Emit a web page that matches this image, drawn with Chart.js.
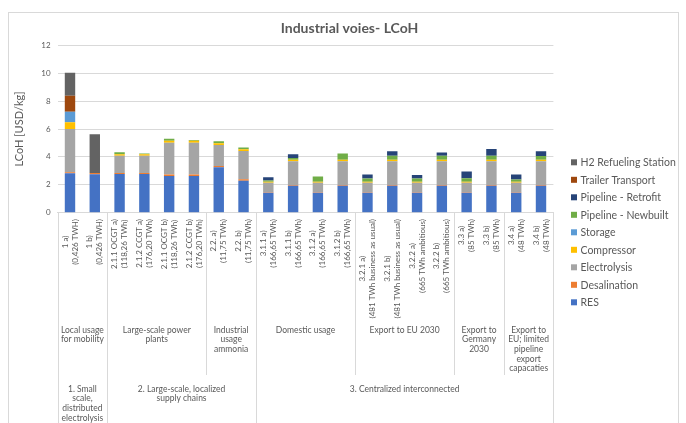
<!DOCTYPE html>
<html><head><meta charset="utf-8">
<script src="https://cdn.jsdelivr.net/npm/chart.js@4"></script>
<style>html,body{margin:0;padding:0;background:#fff}#wrap{width:686px;height:423px;position:relative}</style>
</head><body><div id="wrap"><canvas id="c" width="686" height="423"></canvas></div>
<script>
// ---- data ----
const categoryLabels = [
  ["1 a)", "(0,426 TWH)"], ["1 b)", "(0,426 TWH)"],
  ["2.1.1 OCGT a)", "(118,26 TWh)"], ["2.1.2 CCGT a)", "(176,20 TWh)"],
  ["2.1.1 OCGT b)", "(118,26 TWh)"], ["2.1.2 CCGT b)", "(176,20 TWh)"],
  ["2.2. a)", "(11,75 TWh)"], ["2.2. b)", "(11,75 TWh)"],
  ["3.1.1 a)", "(166,65 TWh)"], ["3.1.1 b)", "(166,65 TWh)"],
  ["3.1.2 a)", "(166,65 TWh)"], ["3.1.2 b)", "(166,65 TWh)"],
  ["3.2.1 a)", "(481 TWh business as usual)"], ["3.2.1 b)", "(481 TWh business as usual)"],
  ["3.2.2 a)", "(665 TWh ambitious)"], ["3.2.2 b)", "(665 TWh ambitious)"],
  ["3.3 a)", "(85 TWh)"], ["3.3 b)", "(85 TWh)"],
  ["3.4 a)", "(48 TWh)"], ["3.4 b)", "(48 TWh)"]
];
const level2Labels = [
  ["Local usage", "for mobility"], ["Large-scale power", "plants"], ["Industrial", "usage", "ammonia"],
  ["Domestic usage"], ["Export to EU 2030"], ["Export to", "Germany", "2030"],
  ["Export to", "EU; limited", "pipeline", "export", "capacaties"]
];
const level2Spans = [2, 4, 2, 4, 4, 2, 2];
const level3Labels = [
  ["1. Small", "scale,", "distributed", "electrolysis"],
  ["2. Large-scale, localized", "supply chains"],
  ["3. Centralized interconnected"]
];
const level3Spans = [2, 6, 12];

const seriesNames = ["RES", "Desalination", "Electrolysis", "Compressor", "Storage",
  "Pipeline - Newbuilt", "Pipeline - Retrofit", "Trailer Transport", "H2 Refueling Station"];
const resValues          = [2.82, 2.75, 2.78, 2.78, 2.63, 2.63, 3.25, 2.29, 1.43, 1.93, 1.43, 1.93, 1.43, 1.93, 1.43, 1.93, 1.43, 1.93, 1.43, 1.93];
const desalinationValues = [0.08, 0.10, 0.07, 0.07, 0.10, 0.10, 0.10, 0.10, 0.04, 0.06, 0.04, 0.06, 0.04, 0.06, 0.04, 0.06, 0.04, 0.06, 0.04, 0.06];
const electrolysisValues = [3.10, 0.00, 1.24, 1.24, 2.29, 2.29, 1.51, 2.04, 0.67, 1.70, 0.67, 1.70, 0.67, 1.70, 0.67, 1.70, 0.67, 1.70, 0.67, 1.70];
const compressorValues   = [0.48, 0.00, 0.10, 0.10, 0.13, 0.13, 0.12, 0.12, 0.07, 0.10, 0.07, 0.10, 0.07, 0.10, 0.07, 0.10, 0.07, 0.10, 0.07, 0.10];
const storageValues      = [0.75, 0, 0, 0, 0, 0, 0, 0, 0, 0, 0, 0, 0, 0, 0, 0, 0, 0, 0, 0];
const newbuiltValues     = [0, 0, 0.14, 0.06, 0.15, 0.06, 0.14, 0.13, 0.10, 0.14, 0.39, 0.45, 0.24, 0.30, 0.24, 0.30, 0.26, 0.30, 0.17, 0.27];
const retrofitValues     = [0, 0, 0, 0, 0, 0, 0, 0, 0.24, 0.26, 0, 0, 0.29, 0.31, 0.26, 0.22, 0.49, 0.47, 0.36, 0.34];
const trailerValues      = [1.15, 0, 0, 0, 0, 0, 0, 0, 0, 0, 0, 0, 0, 0, 0, 0, 0, 0, 0, 0];
const refuelingValues    = [1.65, 2.77, 0, 0, 0, 0, 0, 0, 0, 0, 0, 0, 0, 0, 0, 0, 0, 0, 0, 0];
const yTicks = [0, 2, 4, 6, 8, 10, 12];
const chartTitle = "Industrial voies- LCoH";
const yTitle = "LCoH [USD/kg]";

// ---- styles ----
const seriesColors = ["#4472C4", "#ED7D31", "#A5A5A5", "#FFC000", "#5B9BD5", "#70AD47", "#264478", "#9E480E", "#636363"];
const seriesData = [resValues, desalinationValues, electrolysisValues, compressorValues, storageValues,
  newbuiltValues, retrofitValues, trailerValues, refuelingValues];
const TXT = "#595959", LINE = "#d9d9d9", FONT = "Lato";

const groupAxisPlugin = {
  id: "groupAxis",
  beforeDraw(chart) {
    const ctx = chart.ctx;
    ctx.save();
    ctx.strokeStyle = LINE; ctx.lineWidth = 1;
    ctx.strokeRect(8.5, 12.5, 670, 420);
    ctx.restore();
  },
  afterDraw(chart) {
    const ctx = chart.ctx, xs = chart.scales.x, area = chart.chartArea;
    const n = categoryLabels.length;
    const cw = (area.right - area.left) / n;
    ctx.save();
    ctx.fillStyle = TXT;
    // level 1 (rotated)
    ctx.font = "8px " + FONT;
    const yTop = 219, lh = 10;
    categoryLabels.forEach((lines, i) => {
      const x = xs.getPixelForValue(i);
      const maxW = Math.max(...lines.map(l => ctx.measureText(l).width));
      ctx.save();
      ctx.translate(x, yTop);
      ctx.rotate(-Math.PI / 2);
      ctx.textAlign = "center"; ctx.textBaseline = "middle";
      lines.forEach((l, j) => {
        ctx.fillText(l, -maxW / 2, (j - (lines.length - 1) / 2) * lh);
      });
      ctx.restore();
    });
    // separators
    const l3Bounds = new Set([0]);
    let acc = 0; level3Spans.forEach(s => { acc += s; l3Bounds.add(acc); });
    const l2Bounds = [0]; acc = 0; level2Spans.forEach(s => { acc += s; l2Bounds.push(acc); });
    ctx.strokeStyle = LINE; ctx.lineWidth = 1;
    l2Bounds.forEach(b => {
      const x = Math.round(xs.getPixelForValue(b) - cw / 2) + 0.5;
      const yEnd = l3Bounds.has(b) ? 423 : 375;
      ctx.beginPath(); ctx.moveTo(x, area.bottom); ctx.lineTo(x, yEnd); ctx.stroke();
    });
    // level 2 labels
    ctx.font = "8.5px " + FONT; ctx.textAlign = "center"; ctx.textBaseline = "middle";
    let start = 0;
    level2Labels.forEach((lines, g) => {
      const end = start + level2Spans[g] - 1;
      const cx = (xs.getPixelForValue(start) + xs.getPixelForValue(end)) / 2;
      lines.forEach((l, j) => ctx.fillText(l, cx, 330 + j * 9.6));
      start = end + 1;
    });
    // level 3 labels
    start = 0;
    level3Labels.forEach((lines, g) => {
      const end = start + level3Spans[g] - 1;
      const cx = (xs.getPixelForValue(start) + xs.getPixelForValue(end)) / 2;
      lines.forEach((l, j) => ctx.fillText(l, cx, 389 + j * 9.7));
      start = end + 1;
    });
    // legend (reverse order of stacking)
    ctx.font = "10.5px " + FONT; ctx.textAlign = "left";
    const ds = chart.data.datasets.slice().reverse();
    ds.forEach((d, i) => {
      const y = 162.3 + i * 17.5;
      ctx.fillStyle = d.backgroundColor;
      ctx.fillRect(571, y - 3, 6, 6);
      ctx.fillStyle = TXT;
      ctx.fillText(d.label, 580.5, y + 0.5);
    });
    ctx.restore();
  }
};

new Chart(document.getElementById("c"), {
  type: "bar",
  data: {
    labels: categoryLabels.map(l => l.join(" ")),
    datasets: seriesNames.map((name, k) => ({
      label: name,
      data: seriesData[k],
      backgroundColor: seriesColors[k],
      borderWidth: 0,
      barPercentage: 0.42,
      categoryPercentage: 1
    }))
  },
  options: {
    responsive: false,
    animation: false,
    devicePixelRatio: 1,
    layout: { padding: { left: 13, right: 0, top: 0, bottom: 0 } },
    plugins: {
      legend: { display: false },
      tooltip: { enabled: false },
      title: {
        display: true, text: chartTitle, color: TXT,
        font: { family: FONT, size: 14, weight: "bold" },
        padding: { top: 19.6, bottom: 8.9 }
      }
    },
    scales: {
      x: {
        stacked: true,
        grid: { display: false },
        border: { display: true, color: LINE },
        ticks: { display: false },
        afterFit(s) { s.height = 210.3; }
      },
      y: {
        stacked: true, min: 0, max: 12,
        afterBuildTicks(s) { s.ticks = yTicks.map(v => ({ value: v })); },
        grid: { color: LINE, drawTicks: false },
        border: { display: false },
        ticks: { color: TXT, font: { family: FONT, size: 8 }, padding: 7 },
        title: { display: true, text: yTitle, color: TXT, font: { family: FONT, size: 11 }, padding: { top: 0, bottom: 0 } },
        afterFit(s) { s.width = 44.6; }
      },
      yR: {
        position: "right", display: true, min: 0, max: 1,
        grid: { display: false }, border: { display: false }, ticks: { display: false },
        afterFit(s) { s.width = 132.6; }
      }
    }
  },
  plugins: [groupAxisPlugin]
});
</script>
</body></html>
